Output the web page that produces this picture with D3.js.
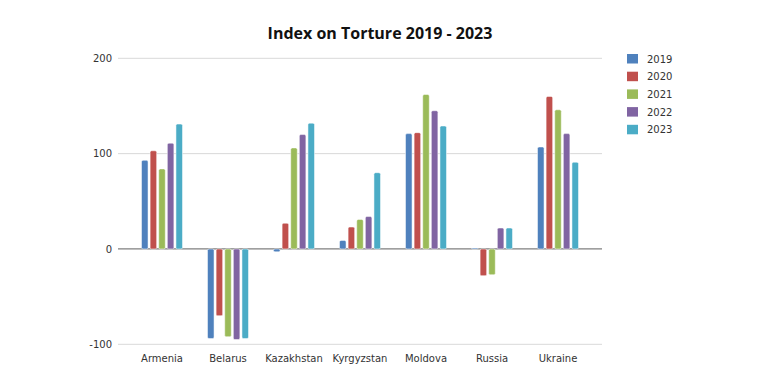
<!DOCTYPE html>
<html>
<head>
<meta charset="utf-8">
<script src="https://cdn.jsdelivr.net/npm/d3@7"></script>
<style>
  body { margin: 0; background: #fff; }
  text { font-family: "DejaVu Sans", sans-serif; }
</style>
</head>
<body>
<script>
var countries = ["Armenia", "Belarus", "Kazakhstan", "Kyrgyzstan", "Moldova", "Russia", "Ukraine"];
var years = ["2019", "2020", "2021", "2022", "2023"];
var v2019 = [93, -94, -3, 9, 121, 1, 107];
var v2020 = [103, -70, 27, 23, 122, -28, 160];
var v2021 = [84, -92, 106, 31, 162, -27, 146];
var v2022 = [111, -95, 120, 34, 145, 22, 121];
var v2023 = [131, -94, 132, 80, 129, 22, 91];
var yTicks = [-100, 0, 100, 200];

var series = [v2019, v2020, v2021, v2022, v2023];
var colors = ["#4F81BD", "#C0504D", "#9BBB59", "#8064A2", "#4BACC6"];

const w = 776;
const h = 389;

const svg = d3.select("body")
    .append("svg")
    .attr("width", w)
    .attr("height", h);

// scales
const xScale = d3.scaleBand()
    .domain(countries)
    .range([129, 591]);

const xInner = d3.scaleBand()
    .domain(years)
    .range([-20.5, 20.5])
    .paddingInner(0.24)
    .paddingOuter(0);

const yScale = d3.scaleLinear()
    .domain([-100, 200])
    .range([344.3, 58.3]);

// title
svg.append("text")
    .attr("x", 380)
    .attr("y", 39)
    .attr("text-anchor", "middle")
    .style("font-family", "'Open Sans', sans-serif")
    .style("font-weight", "bold")
    .style("font-size", "16px")
    .attr("fill", "#111")
    .text("Index on Torture 2019 - 2023");

// grid lines
svg.append("g")
    .selectAll("line")
    .data(yTicks)
    .enter()
    .append("line")
    .attr("x1", 118)
    .attr("x2", 602)
    .attr("y1", (d) => yScale(d))
    .attr("y2", (d) => yScale(d))
    .attr("stroke", (d) => d === 0 ? "#7f7f7f" : "#d9d9d9")
    .attr("stroke-width", (d) => d === 0 ? 1.3 : 1);

// y axis labels
const yAxis = d3.axisLeft(yScale)
    .tickValues(yTicks)
    .tickFormat((d) => String(d))
    .tickSize(0)
    .tickPadding(6);

svg.append("g")
    .attr("transform", "translate(118,0)")
    .call(yAxis)
    .call((g) => g.select(".domain").remove())
    .call((g) => g.selectAll("text")
        .style("font-size", "10px")
        .attr("fill", "#333"));

// x axis labels
const xAxis = d3.axisBottom(xScale).tickSize(0).tickPadding(6);

svg.append("g")
    .attr("transform", "translate(0,349)")
    .call(xAxis)
    .call((g) => g.select(".domain").remove())
    .call((g) => g.selectAll("text")
        .style("font-size", "10px")
        .attr("fill", "#333"));

// bars
series.forEach(function (vals, si) {
    svg.append("g")
        .selectAll("rect")
        .data(vals)
        .enter()
        .append("rect")
        .attr("x", (d, i) => xScale(countries[i]) + xScale.bandwidth() / 2 + xInner(years[si]))
        .attr("y", (d) => yScale(Math.max(0, d)))
        .attr("width", xInner.bandwidth())
        .attr("height", (d) => Math.max(1, Math.abs(yScale(d) - yScale(0))))
        .attr("rx", 1.5)
        .attr("fill", colors[si])
        .attr("stroke", "#fff")
        .attr("stroke-width", 0.5)
        .append("title")
        .text((d, i) => countries[i] + " " + years[si] + ": " + d);
});

// legend
const legend = svg.append("g")
    .selectAll("g")
    .data(years)
    .enter()
    .append("g")
    .attr("transform", (d, i) => "translate(627," + (54 + i * 17.7) + ")");

legend.append("rect")
    .attr("width", 11)
    .attr("height", 9.5)
    .attr("fill", (d, i) => colors[i]);

legend.append("text")
    .attr("x", 20)
    .attr("y", 8.5)
    .style("font-size", "10px")
    .attr("fill", "#333")
    .text((d) => d);
</script>
</body>
</html>
